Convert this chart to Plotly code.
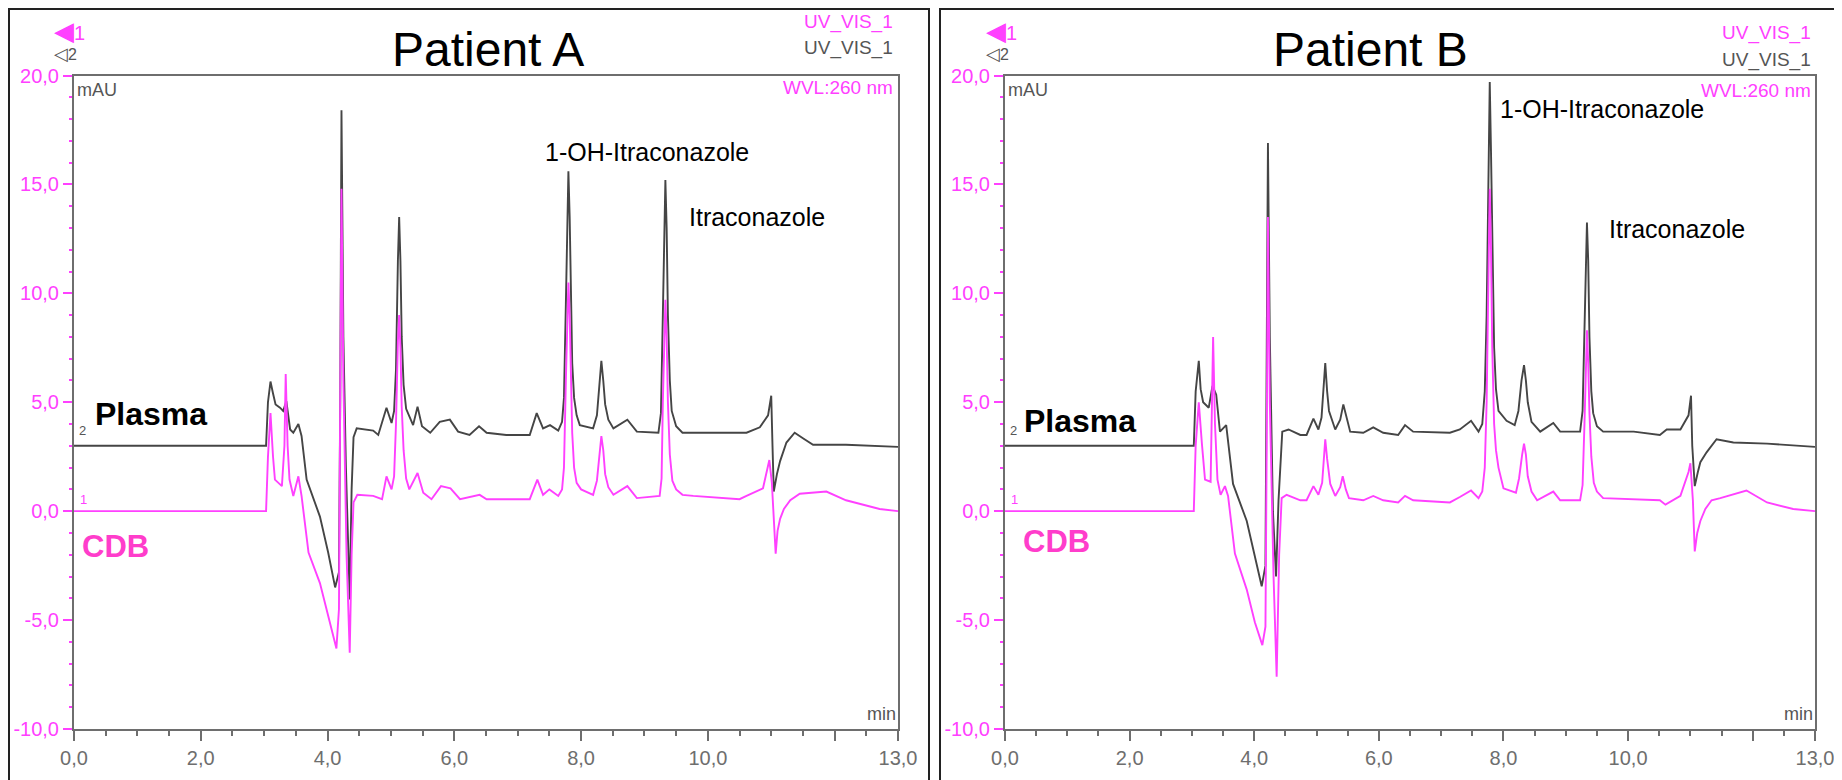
import plotly.graph_objects as go

# Target screen size; the page body adds an 8 px offset, so the figure is made 8 px smaller
SCR_W, SCR_H = 1842, 780
OFF = 8
W, H = SCR_W - OFF, SCR_H - OFF

# ---------------- data ----------------
# Patient A, Plasma (black trace, channel 2)
pa_t = [0.00, 3.03, 3.06, 3.10, 3.14, 3.18, 3.25, 3.30, 3.35, 3.41, 3.46, 3.54, 3.59, 3.67, 3.88, 4.01, 4.12, 4.18,
        4.20, 4.22, 4.25, 4.29, 4.35, 4.38, 4.41, 4.46, 4.72, 4.80, 4.93, 5.01,
        5.05, 5.08, 5.11, 5.13, 5.15, 5.17, 5.20, 5.24,
        5.35, 5.42, 5.49, 5.62, 5.77, 5.93, 6.06, 6.24, 6.39, 6.51, 6.82, 7.19, 7.30, 7.40, 7.51, 7.64,
        7.70, 7.73, 7.76, 7.78, 7.80, 7.82, 7.84, 7.86, 7.89, 7.93, 7.98,
        8.19, 8.25, 8.29, 8.32, 8.35, 8.38, 8.43, 8.51, 8.73, 8.88,
        9.22, 9.26, 9.29, 9.31, 9.33, 9.35, 9.37, 9.40, 9.43, 9.50, 9.60,
        10.61, 10.82, 10.95, 11.00, 11.02, 11.04, 11.09, 11.14, 11.24, 11.37, 11.50, 11.66, 12.18, 13.00]
pa_v = [3.0, 3.0, 5.0, 5.95, 5.4, 4.9, 4.75, 4.6, 5.05, 3.75, 3.6, 4.0, 3.45, 1.45, -0.25, -1.9, -3.5, -2.8,
        5.0, 18.4, 8.0, 2.0, -4.05, 1.0, 3.4, 3.8, 3.7, 3.5, 4.75, 4.05,
        4.6, 6.5, 11.5, 13.5, 11.5, 8.0, 5.8, 4.7,
        3.95, 4.8, 3.9, 3.6, 4.1, 4.2, 3.65, 3.5, 3.9, 3.6, 3.5, 3.5, 4.5, 3.8, 3.95, 3.7,
        4.1, 5.2, 9.5, 13.5, 15.6, 13.5, 9.5, 6.8, 5.2, 4.4, 3.95,
        3.8, 4.4, 6.0, 6.9, 6.0, 4.9, 4.2, 3.8, 4.2, 3.65,
        3.6, 4.5, 9.0, 13.0, 15.2, 13.0, 9.0, 6.0, 4.6, 3.9, 3.6,
        3.6, 3.85, 4.4, 5.3, 3.0, 0.9, 1.7, 2.3, 3.15, 3.6, 3.35, 3.05, 3.05, 2.95]

# Patient A, CDB (magenta trace, channel 1)
ca_t = [0.00, 3.03, 3.06, 3.10, 3.14, 3.17, 3.28, 3.32, 3.34, 3.37, 3.40, 3.46, 3.54, 3.59, 3.70, 3.88, 4.01, 4.14,
        4.18, 4.20, 4.22, 4.25, 4.30, 4.35, 4.38, 4.41, 4.47, 4.72, 4.86, 4.93, 5.01,
        5.05, 5.08, 5.11, 5.13, 5.15, 5.17, 5.20, 5.24, 5.29,
        5.42, 5.51, 5.64, 5.79, 5.94, 6.09, 6.40, 6.51, 7.19, 7.31, 7.40, 7.50, 7.64,
        7.70, 7.73, 7.76, 7.78, 7.80, 7.82, 7.84, 7.86, 7.89, 7.93, 8.00,
        8.19, 8.25, 8.29, 8.32, 8.35, 8.38, 8.43, 8.51, 8.73, 8.88,
        9.24, 9.27, 9.29, 9.31, 9.33, 9.35, 9.37, 9.40, 9.44, 9.50, 9.60,
        9.77, 10.50, 10.61, 10.87, 10.97, 11.01, 11.07, 11.10, 11.14, 11.20, 11.30, 11.45, 11.87, 12.18, 12.71, 13.00]
ca_v = [0.0, 0.0, 2.5, 4.5, 2.5, 1.45, 1.15, 3.0, 6.3, 3.0, 1.45, 0.7, 1.6, 0.7, -1.9, -3.3, -4.8, -6.3,
        -4.5, 4.0, 14.8, 6.0, -2.0, -6.5, -2.0, 0.4, 0.75, 0.7, 0.55, 1.6, 1.0,
        1.6, 4.0, 7.8, 9.0, 7.5, 4.8, 2.8, 1.5, 1.0,
        1.75, 0.85, 0.55, 1.15, 1.05, 0.55, 0.75, 0.55, 0.55, 1.45, 0.75, 1.0, 0.7,
        1.0, 2.0, 6.0, 9.0, 10.5, 9.0, 6.0, 3.6, 2.0, 1.3, 1.0,
        0.75, 1.4, 2.8, 3.45, 2.8, 1.7, 1.1, 0.75, 1.15, 0.6,
        0.7, 1.5, 5.0, 8.0, 9.7, 8.0, 5.0, 2.6, 1.4, 1.0, 0.75,
        0.7, 0.55, 0.7, 1.05, 2.35, 1.3, -1.95, -0.9, -0.35, 0.1, 0.5, 0.8, 0.9, 0.5, 0.1, 0.0]

# Patient B, Plasma
pb_t = [0.00, 3.03, 3.06, 3.11, 3.14, 3.18, 3.27, 3.33, 3.39, 3.45, 3.55, 3.66, 3.88, 4.04, 4.12, 4.18, 4.20, 4.22,
        4.25, 4.30, 4.35, 4.39, 4.45, 4.55, 4.74, 4.84, 4.95, 5.03, 5.08, 5.11, 5.14, 5.17, 5.20, 5.30, 5.38, 5.43,
        5.48, 5.54, 5.75, 5.91, 6.07, 6.31, 6.42, 6.55, 7.14, 7.30, 7.48, 7.60,
        7.66, 7.70, 7.73, 7.76, 7.78, 7.80, 7.82, 7.85, 7.88, 7.92, 8.05, 8.18,
        8.24, 8.29, 8.33, 8.36, 8.39, 8.45, 8.59, 8.80, 8.91,
        9.23, 9.27, 9.30, 9.32, 9.34, 9.36, 9.38, 9.41, 9.44, 9.50, 9.60,
        10.09, 10.51, 10.62, 10.84, 10.97, 11.01, 11.03, 11.07, 11.12, 11.16, 11.26, 11.42, 11.69, 12.23, 13.00]
pb_v = [3.0, 3.0, 5.5, 6.9, 5.6, 5.0, 4.75, 5.75, 5.35, 3.65, 3.95, 1.25, -0.45, -2.5, -3.45, -2.5, 5.0, 16.9,
        8.0, 0.0, -3.0, 0.5, 3.65, 3.75, 3.5, 3.5, 4.25, 3.75, 4.3, 5.5, 6.8, 5.5, 4.6, 3.75, 4.2, 4.9,
        4.3, 3.65, 3.6, 3.85, 3.6, 3.5, 3.95, 3.65, 3.6, 3.75, 4.15, 3.65,
        4.0, 5.5, 9.0, 15.0, 19.7, 16.5, 12.0, 7.5, 5.6, 4.6, 4.15, 3.95,
        4.6, 6.0, 6.7, 6.0, 5.0, 4.1, 3.65, 4.05, 3.65,
        3.65, 4.6, 8.0, 11.5, 13.25, 11.5, 8.0, 5.5, 4.5, 3.9, 3.65,
        3.65, 3.5, 3.75, 3.75, 4.4, 5.3, 3.0, 1.15, 1.8, 2.25, 2.7, 3.3, 3.15, 3.1, 2.95]

# Patient B, CDB
cb_t = [0.00, 3.03, 3.06, 3.11, 3.16, 3.21, 3.30, 3.32, 3.34, 3.37, 3.41, 3.46, 3.53, 3.58, 3.69, 3.88, 4.01, 4.13,
        4.18, 4.20, 4.22, 4.25, 4.31, 4.36, 4.40, 4.44, 4.52, 4.74, 4.84, 4.95, 5.03, 5.09, 5.12, 5.14, 5.17, 5.22,
        5.30, 5.38, 5.42, 5.47, 5.52, 5.75, 5.91, 6.07, 6.31, 6.42, 6.55, 7.14, 7.30, 7.48, 7.60,
        7.66, 7.70, 7.73, 7.76, 7.78, 7.80, 7.82, 7.85, 7.88, 7.92, 8.00, 8.20,
        8.25, 8.30, 8.33, 8.36, 8.39, 8.45, 8.54, 8.80, 8.91,
        9.23, 9.27, 9.30, 9.32, 9.34, 9.36, 9.38, 9.41, 9.45, 9.50, 9.60,
        10.51, 10.60, 10.84, 10.97, 11.00, 11.04, 11.07, 11.11, 11.16, 11.24, 11.34, 11.48, 11.90, 12.23, 12.65, 13.00]
cb_v = [0.0, 0.0, 3.0, 5.0, 3.1, 1.45, 1.35, 4.0, 8.0, 4.0, 1.45, 0.75, 1.15, 0.7, -1.95, -3.6, -5.1, -6.15,
        -5.3, 3.0, 13.5, 5.0, -3.0, -7.6, -2.0, 0.6, 0.75, 0.5, 0.5, 1.15, 0.75, 1.3, 2.6, 3.3, 2.4, 1.25,
        0.7, 1.1, 1.6, 1.0, 0.6, 0.5, 0.7, 0.5, 0.4, 0.7, 0.5, 0.4, 0.65, 0.95, 0.6,
        0.9, 2.0, 5.0, 11.0, 14.8, 12.0, 7.5, 4.0, 2.8, 2.0, 1.05, 0.85,
        1.5, 2.6, 3.1, 2.6, 1.6, 0.9, 0.5, 0.9, 0.5,
        0.5, 1.2, 4.0, 6.8, 8.3, 6.8, 4.5, 2.5, 1.3, 0.9, 0.6,
        0.5, 0.3, 0.7, 1.8, 2.2, 0.5, -1.85, -1.0, -0.45, 0.1, 0.5, 0.6, 0.95, 0.4, 0.1, 0.0]

y_ticks = [-10, -5, 0, 5, 10, 15, 20]
y_ticktext = ["-10,0", "-5,0", "0,0", "5,0", "10,0", "15,0", "20,0"]
x_ticks = [0, 2, 4, 6, 8, 10, 12, 13]
x_ticktext = ["0,0", "2,0", "4,0", "6,0", "8,0", "10,0", "", "13,0"]

titles = ["Patient A", "Patient B"]
peak_labels = ["1-OH-Itraconazole", "Itraconazole"]
# label anchor positions (t, mAU) per panel
peak_pos_a = [(7.40, 16.5), (9.67, 13.5)]
peak_pos_b = [(7.91, 18.45), (9.66, 12.95)]

# ---------------- styling ----------------
BLACK = "#454545"
MAG = "#ff40ff"
PINK = "#ff3dcb"
GRAY = "#6e6e6e"
NARROW = "Liberation Sans Narrow, Arial Narrow, Liberation Sans, Arial, sans-serif"
SANS = "Liberation Sans, Arial, sans-serif"


def px(x):
    """screen pixel x -> paper fraction"""
    return (x - OFF) / W


def py(y):
    """screen pixel y (from top) -> paper fraction"""
    return 1 - (y - OFF) / H


fig = go.Figure()

panels = [
    dict(xa="x", ya="y", dom=[px(74), px(898)], pt=pa_t, pv=pa_v, ct=ca_t, cv=ca_v, pos=peak_pos_a),
    dict(xa="x2", ya="y2", dom=[px(1005), px(1815)], pt=pb_t, pv=pb_v, ct=cb_t, cv=cb_v, pos=peak_pos_b),
]

for p in panels:
    fig.add_trace(go.Scatter(x=p["pt"], y=p["pv"], mode="lines", xaxis=p["xa"], yaxis=p["ya"],
                             line=dict(color=BLACK, width=1.9), showlegend=False, hoverinfo="skip"))
    fig.add_trace(go.Scatter(x=p["ct"], y=p["cv"], mode="lines", xaxis=p["xa"], yaxis=p["ya"],
                             line=dict(color=MAG, width=1.9), showlegend=False, hoverinfo="skip"))

ydom = [py(729), py(75.5)]
axis_common_x = dict(range=[0, 13], showgrid=False, zeroline=False, showline=True, linecolor=GRAY, linewidth=2,
                     mirror=True, ticks="outside", ticklen=10, tickwidth=1.5, tickcolor=GRAY,
                     automargin=False,
                     tickmode="array", tickvals=x_ticks, ticktext=x_ticktext,
                     tickfont=dict(family=NARROW, size=20, color=GRAY),
                     minor=dict(tickmode="linear", tick0=0, dtick=0.5, ticks="outside", ticklen=5,
                                tickcolor=GRAY, tickwidth=1.5))
axis_common_y = dict(range=[-10, 20], showgrid=False, zeroline=False, showline=True, linecolor=GRAY, linewidth=2,
                     mirror=True, ticks="outside", ticklen=9, tickwidth=1.5, tickcolor=MAG,
                     automargin=False,
                     tickmode="array", tickvals=y_ticks, ticktext=y_ticktext,
                     tickfont=dict(family=NARROW, size=20, color=MAG),
                     minor=dict(tickmode="linear", tick0=0, dtick=1, ticks="outside", ticklen=3,
                                tickcolor=MAG, tickwidth=2))

fig.update_layout(
    width=W, height=H, autosize=False, margin=dict(l=0, r=0, t=0, b=0, pad=0),
    paper_bgcolor="white", plot_bgcolor="white",
    xaxis=dict(domain=panels[0]["dom"], anchor="y", **axis_common_x),
    yaxis=dict(domain=ydom, anchor="x", **axis_common_y),
    xaxis2=dict(domain=panels[1]["dom"], anchor="y2", **axis_common_x),
    yaxis2=dict(domain=ydom, anchor="x2", **axis_common_y),
)

# panel borders
for (x0, x1) in [(9, 929), (940, 1838)]:
    fig.add_shape(type="rect", xref="paper", yref="paper", x0=px(x0), x1=px(x1), y0=-0.05, y1=py(9),
                  line=dict(color="#222222", width=2), fillcolor="rgba(0,0,0,0)", layer="above")

annots = []
hdr = [
    # (title center x, left marker x, right text x, uv1 y, uv2 y, wvl y)
    (488, 52, 895, 22, 48, 87),
    (1370, 984, 1813, 33, 60, 90),
]
for i, (p, h) in enumerate(zip(panels, hdr)):
    tcx, mx, rx, u1, u2, wv = h
    xa, ya = p["xa"], p["ya"]
    annots.append(dict(text=titles[i], x=px(tcx), y=py(50), xref="paper", yref="paper", showarrow=False,
                       xanchor="center", yanchor="middle", font=dict(family=SANS, size=48, color="black")))
    annots.append(dict(text="<span style='font-size:26px'>◀</span>1", x=px(mx), y=py(31), xref="paper",
                       yref="paper", showarrow=False, xanchor="left", yanchor="middle",
                       font=dict(family=NARROW, size=20, color=MAG)))
    annots.append(dict(text="<span style='font-size:18px'>◁</span>2", x=px(mx), y=py(54), xref="paper",
                       yref="paper", showarrow=False, xanchor="left", yanchor="middle",
                       font=dict(family=NARROW, size=16, color="#555555")))
    annots.append(dict(text="UV_VIS_1", x=px(rx), y=py(u1), xref="paper", yref="paper", showarrow=False,
                       xanchor="right", yanchor="middle", font=dict(family=NARROW, size=19, color=MAG)))
    annots.append(dict(text="UV_VIS_1", x=px(rx), y=py(u2), xref="paper", yref="paper", showarrow=False,
                       xanchor="right", yanchor="middle", font=dict(family=NARROW, size=19, color="#555555")))
    annots.append(dict(text="WVL:260 nm", x=px(rx), y=py(wv), xref="paper", yref="paper", showarrow=False,
                       xanchor="right", yanchor="middle", font=dict(family=NARROW, size=19, color=MAG)))
    # mAU / min
    annots.append(dict(text="mAU", x=0.02, y=19.35, xref=xa, yref=ya, showarrow=False,
                       xanchor="left", yanchor="middle", font=dict(family=NARROW, size=18, color="#555555")))
    annots.append(dict(text="min", x=13, y=-9.3, xref=xa, yref=ya, showarrow=False,
                       xanchor="right", yanchor="middle", font=dict(family=NARROW, size=18, color="#555555")))
    # channel numbers
    annots.append(dict(text="2", x=0.05, y=3.7, xref=xa, yref=ya, showarrow=False,
                       xanchor="left", yanchor="middle", font=dict(family=NARROW, size=13, color="#555555")))
    annots.append(dict(text="1", x=0.07, y=0.55, xref=xa, yref=ya, showarrow=False,
                       xanchor="left", yanchor="middle", font=dict(family=NARROW, size=13, color=MAG)))
    # trace names
    annots.append(dict(text="<b>Plasma</b>", x=0.30 if i == 0 else 0.28, y=4.45 if i == 0 else 4.15,
                       xref=xa, yref=ya, showarrow=False, xanchor="left", yanchor="middle",
                       font=dict(family=SANS, size=32, color="black")))
    annots.append(dict(text="<b>CDB</b>", x=0.09 if i == 0 else 0.26, y=-1.6 if i == 0 else -1.4,
                       xref=xa, yref=ya, showarrow=False, xanchor="left", yanchor="middle",
                       font=dict(family=SANS, size=31, color=PINK)))
    # peak labels
    for lab, (tx, ty) in zip(peak_labels, p["pos"]):
        annots.append(dict(text=lab, x=tx, y=ty, xref=xa, yref=ya, showarrow=False,
                           xanchor="left", yanchor="middle", font=dict(family=SANS, size=25, color="black")))

fig.update_layout(annotations=annots)
fig.write_html("out.html")
